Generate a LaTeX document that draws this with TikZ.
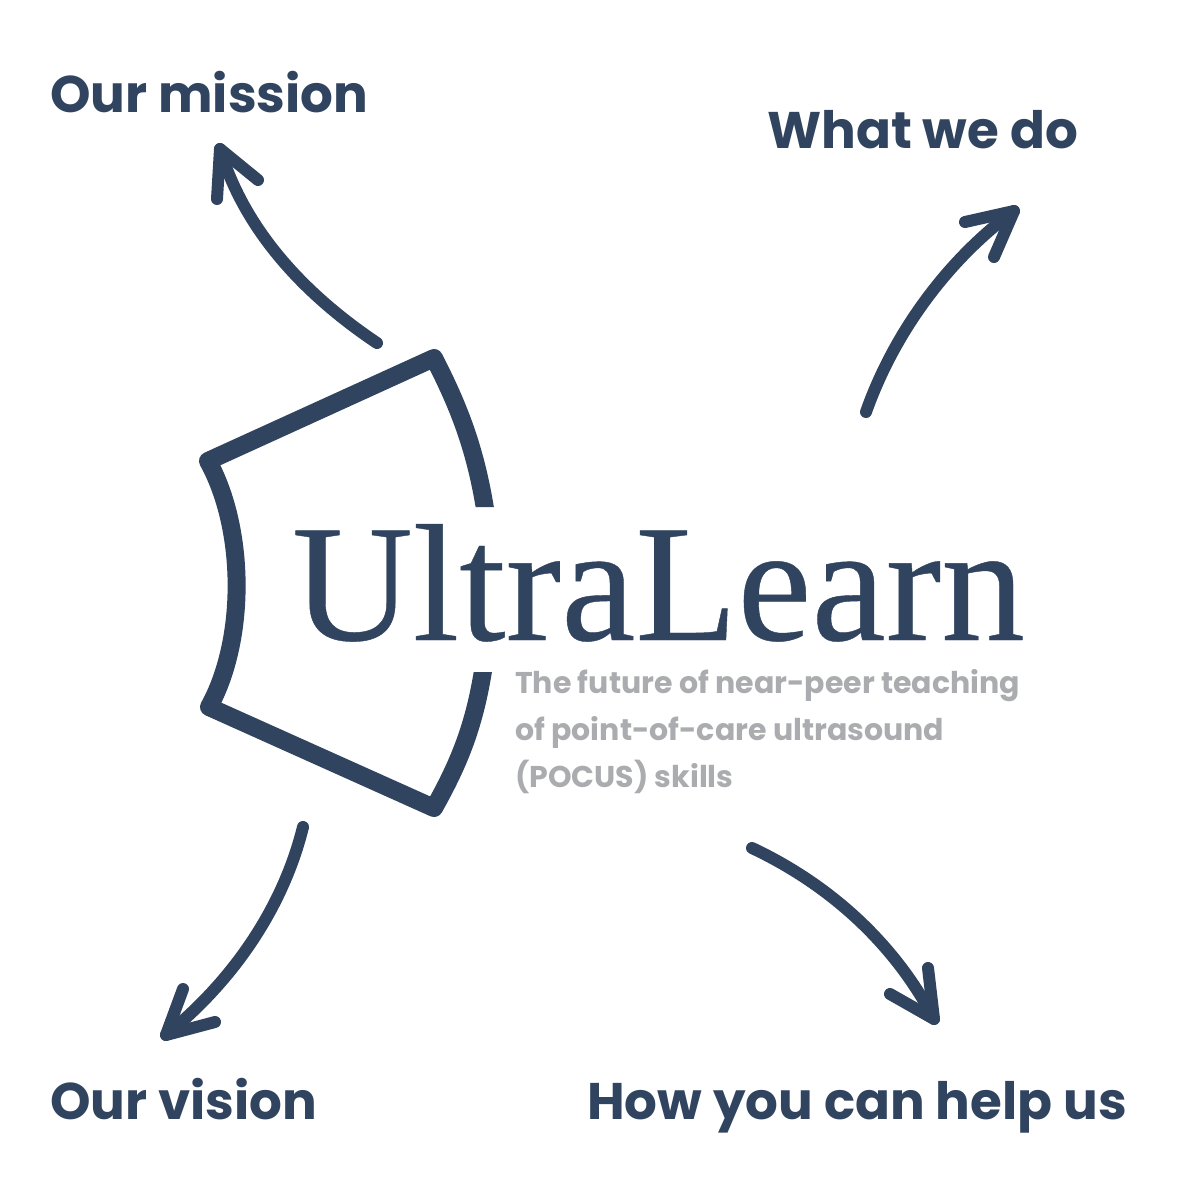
\documentclass[tikz,border=0pt]{standalone}
\usepackage{fontspec}
\setmainfont{Poppins}
\newfontfamily\logofont[FakeBold=0.25]{Liberation Serif}
\usepackage{tikz}
\definecolor{ulblue}{HTML}{30445F}
\definecolor{ulgrey}{HTML}{ABACAF}
\tikzset{
  heading/.style={anchor=base west,color=ulblue,font=\fontsize{51.5}{51.5}\selectfont\bfseries,inner sep=0pt},
  subline/.style={anchor=base west,color=ulgrey,font=\fontsize{30}{30}\selectfont\bfseries,inner sep=0pt},
  curvearrow/.style={draw=ulblue,line width=12pt,line cap=round,line join=round},
  probeframe/.style={draw=ulblue,line width=18pt,line cap=butt,line join=round}
}
\begin{document}
\begin{tikzpicture}[x=1pt,y=-1pt]
  \useasboundingbox[fill=white] (0,0) rectangle (1200,1200);

  \node[heading] (mission) at (50,112) {Our mission};
  \node[heading] (whatwedo) at (767,148) {What we do};
  \node[heading] (vision) at (50,1119) {Our vision};
  \node[heading] (help) at (587,1119) {How you can help us};

  \begin{scope}
    \clip (0,0) rectangle (1200,507) (0,507) rectangle (300,672) (0,672) rectangle (1200,1200);
    \draw[probeframe] (487,522) .. controls (477,450) and (458,405) .. (434,358) -- (208,461)
      .. controls (246,530) and (246,640) .. (209,707) -- (434,808)
      .. controls (458,765) and (476,725) .. (485,657);
  \end{scope}

  \node[anchor=base west,color=ulblue,font=\logofont\fontsize{167}{167}\selectfont,inner sep=0pt] (logo) at (292,640) {UltraLearn};

  \node[subline] (line1) at (515,693) {The future of near-peer teaching};
  \node[subline] (line2) at (515,740) {of point-of-care ultrasound};
  \node[subline] (line3) at (515,787) {(POCUS) skills};

  \coordinate (a1) at (377,343);
  \coordinate (a1tip) at (220,149);
  \draw[curvearrow] (a1) .. controls (310,298) and (246,235) .. (a1tip);
  \draw[curvearrow] (217,199) -- (a1tip) -- (258,180);

  \coordinate (a2) at (866,412);
  \coordinate (a2tip) at (1014,211);
  \draw[curvearrow] (a2) .. controls (895,330) and (950,258) .. (a2tip);
  \draw[curvearrow] (965,222) -- (a2tip) -- (994,257);

  \coordinate (a3) at (303,827);
  \coordinate (a3tip) at (166,1035);
  \draw[curvearrow] (a3) .. controls (285,900) and (240,975) .. (a3tip);
  \draw[curvearrow] (183,989) -- (a3tip) -- (215,1022);

  \coordinate (a4) at (752,848);
  \coordinate (a4tip) at (934,1019);
  \draw[curvearrow] (a4) .. controls (820,880) and (890,935) .. (a4tip);
  \draw[curvearrow] (890,994) -- (a4tip) -- (928,968);
\end{tikzpicture}
\end{document}
